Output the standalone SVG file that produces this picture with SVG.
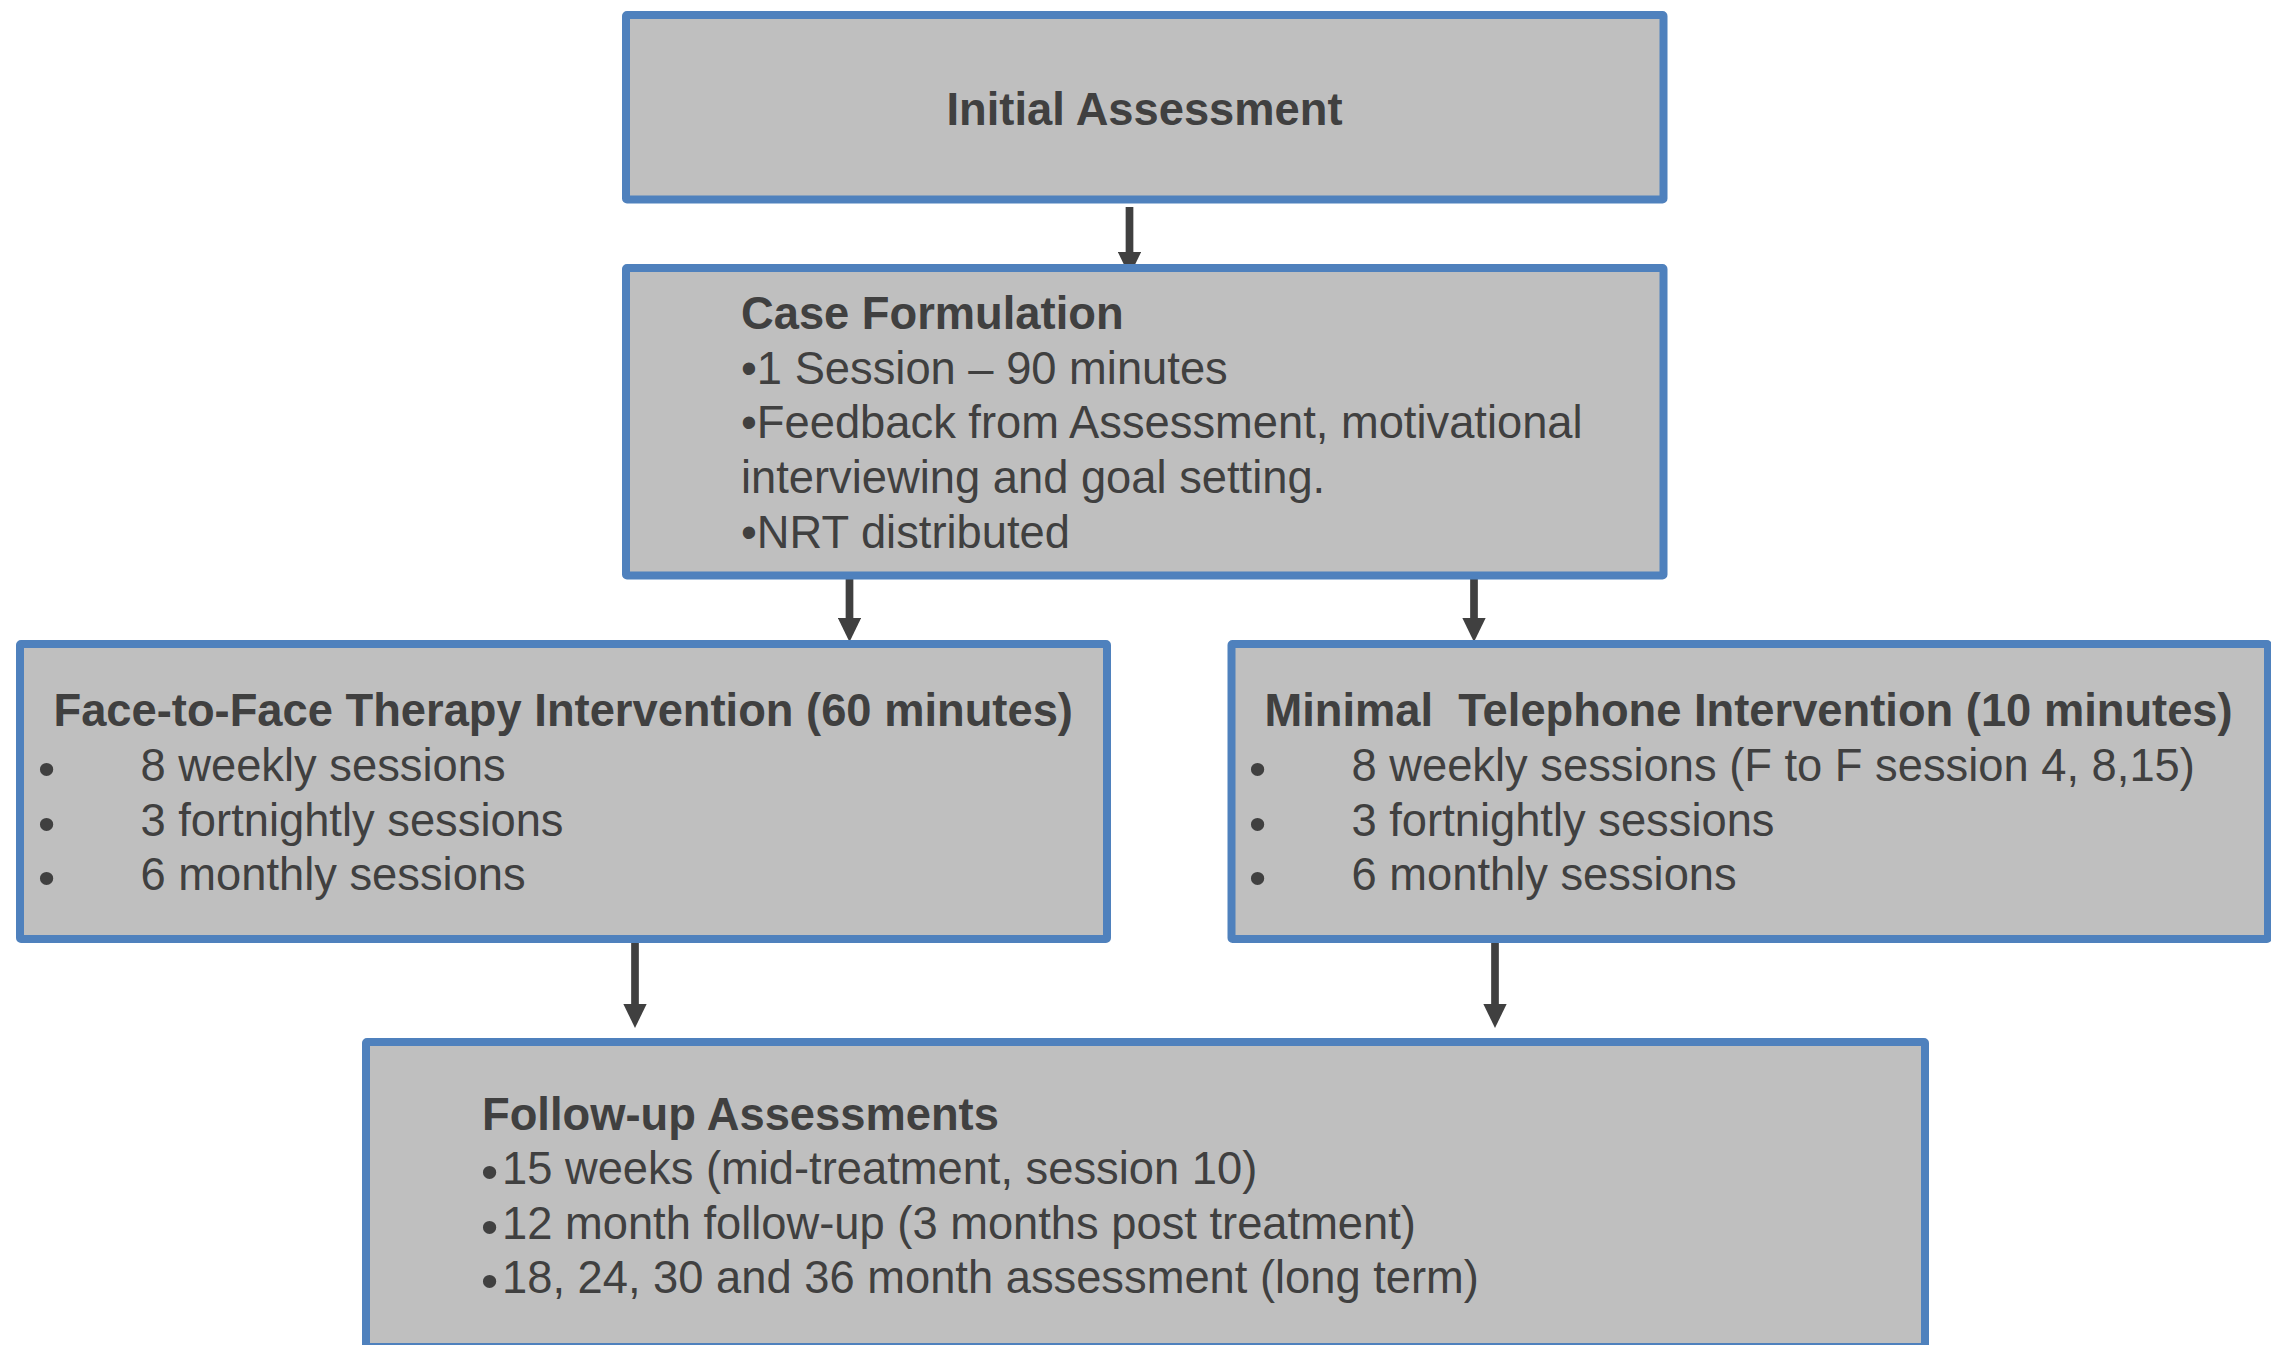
<svg xmlns="http://www.w3.org/2000/svg" width="2271" height="1345" viewBox="0 0 2271 1345">
<defs>
<style>
.box{fill:#bfbfbf;stroke:#4f81bd;stroke-width:8}
.t{font-family:"Liberation Sans",Arial,sans-serif;font-size:45.3px;fill:#404040}
.b{font-weight:bold}
.bul{font-family:"Liberation Sans",Arial,sans-serif;font-size:49px;fill:#404040}
.conn{stroke:#404040;stroke-width:7.7;fill:none}
</style>
<marker id="ah" markerUnits="userSpaceOnUse" markerWidth="24" markerHeight="23.3" viewBox="0 0 24 23.3" refX="1" refY="11.65" orient="auto">
<path d="M0,0 L24,11.65 L0,23.3 z" fill="#404040"/>
</marker>
</defs>
<rect width="2271" height="1345" fill="#ffffff"/>
<g id="connectors">
<line class="conn" x1="1129.5" y1="207" x2="1129.5" y2="253" marker-end="url(#ah)"/>
<line class="conn" x1="849.5" y1="574" x2="849.5" y2="619" marker-end="url(#ah)"/>
<line class="conn" x1="1474" y1="574" x2="1474" y2="619" marker-end="url(#ah)"/>
<line class="conn" x1="635" y1="939" x2="635" y2="1005" marker-end="url(#ah)"/>
<line class="conn" x1="1495" y1="939" x2="1495" y2="1005" marker-end="url(#ah)"/>
</g>
<g id="initial">
<rect class="box" x="626" y="15" width="1037.5" height="184.5" rx="1"/>
<text class="t b" x="1144.5" y="125" text-anchor="middle">Initial Assessment</text>
</g>
<g id="case">
<rect class="box" x="626" y="268" width="1037.5" height="307.5" rx="1"/>
<text class="t b" x="741" y="329">Case Formulation</text>
<text class="t" x="741" y="384">•1 Session – 90 minutes</text>
<text class="t" x="741" y="438">•Feedback from Assessment, motivational</text>
<text class="t" x="741" y="493">interviewing and goal setting.</text>
<text class="t" x="741" y="548">•NRT distributed</text>
</g>
<g id="face">
<rect class="box" x="20" y="644" width="1087" height="295" rx="1"/>
<text class="t b" x="53.5" y="726">Face-to-Face Therapy Intervention (60 minutes)</text>
<text class="bul" x="38" y="784.6">•</text>
<text class="bul" x="38" y="839.6">•</text>
<text class="bul" x="38" y="893.6">•</text>
<text class="t" x="140.5" y="781">8 weekly sessions</text>
<text class="t" x="140.5" y="836">3 fortnightly sessions</text>
<text class="t" x="140.5" y="890">6 monthly sessions</text>
</g>
<g id="minimal">
<rect class="box" x="1231.5" y="644" width="1036.5" height="295" rx="1"/>
<text class="t b" x="1264.5" y="726" xml:space="preserve">Minimal  Telephone Intervention (10 minutes)</text>
<text class="bul" x="1249" y="784.6">•</text>
<text class="bul" x="1249" y="839.6">•</text>
<text class="bul" x="1249" y="893.6">•</text>
<text class="t" x="1351.5" y="781">8 weekly sessions (F to F session 4, 8,15)</text>
<text class="t" x="1351.5" y="836">3 fortnightly sessions</text>
<text class="t" x="1351.5" y="890">6 monthly sessions</text>
</g>
<g id="followup">
<rect class="box" x="366" y="1042" width="1559" height="305" rx="1"/>
<text class="t b" x="482" y="1130">Follow-up Assessments</text>
<text class="bul" x="481" y="1187.6">•</text>
<text class="bul" x="481" y="1242.6">•</text>
<text class="bul" x="481" y="1296.6">•</text>
<text class="t" x="502" y="1184">15 weeks (mid-treatment, session 10)</text>
<text class="t" x="502" y="1239">12 month follow-up (3 months post treatment)</text>
<text class="t" x="502" y="1293">18, 24, 30 and 36 month assessment (long term)</text>
</g>
</svg>
